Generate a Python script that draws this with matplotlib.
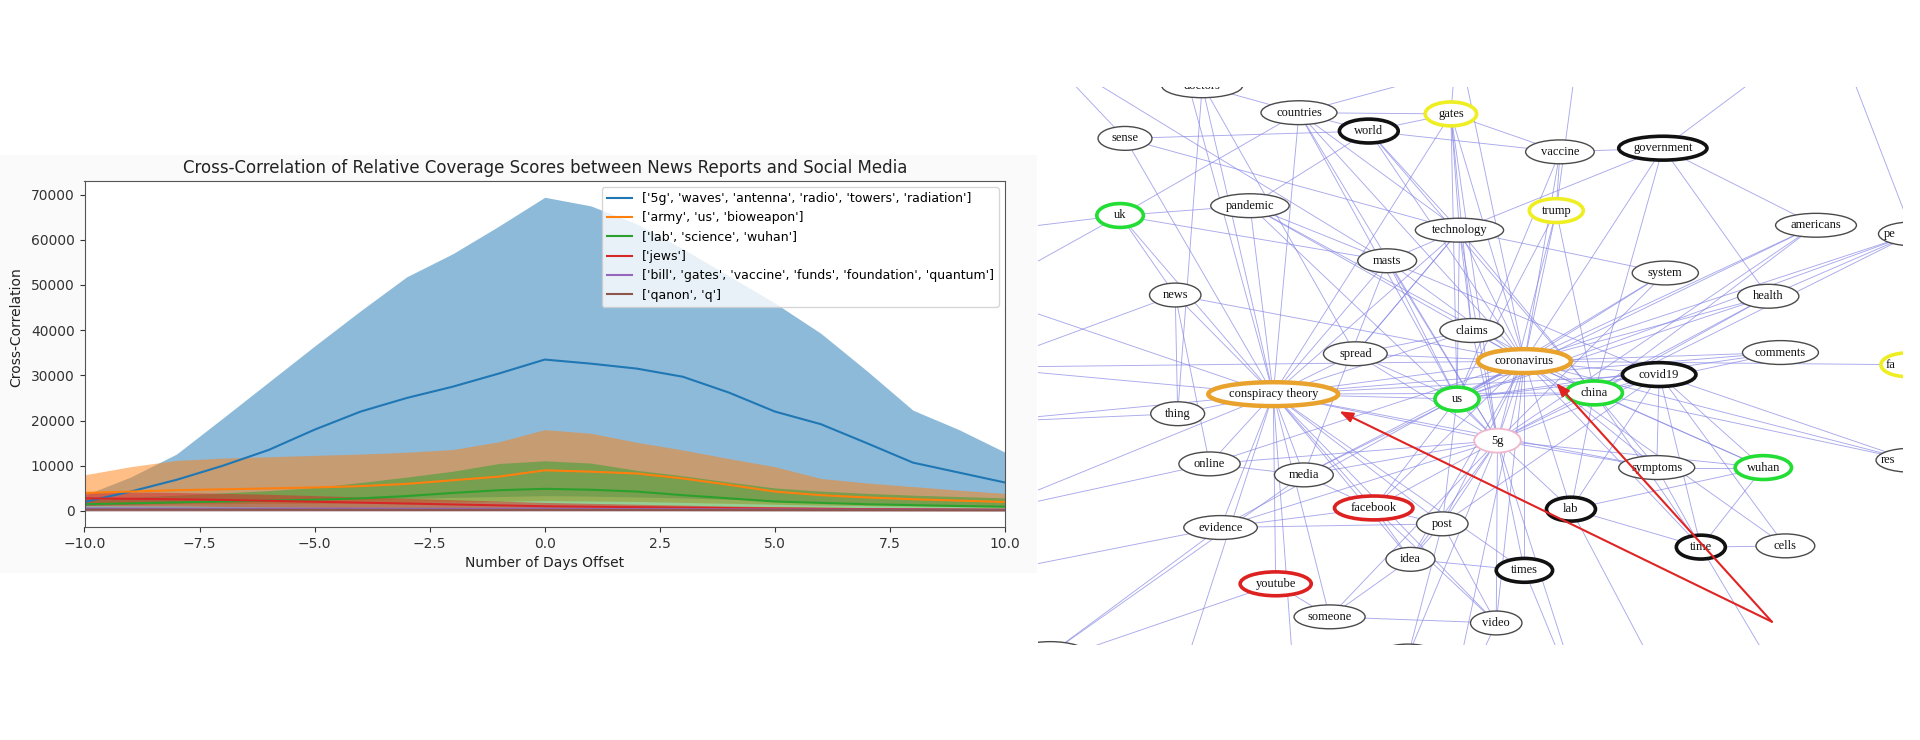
#--------------------------------------------------------
# Cross-correlation of topic coverage (news vs social media)
# next to a cropped view of the keyword co-occurrence network
#--------------------------------------------------------

import numpy as np
import matplotlib
matplotlib.use('Agg')
import matplotlib.pyplot as plt
from matplotlib.patches import Ellipse, Rectangle
from matplotlib.ticker import MultipleLocator

#-----------------------------------------
#--- Cross-correlation data (lag in days)
#-----------------------------------------
lags = np.arange(-10, 11)

topics = ["['5g', 'waves', 'antenna', 'radio', 'towers', 'radiation']",
          "['army', 'us', 'bioweapon']",
          "['lab', 'science', 'wuhan']",
          "['jews']",
          "['bill', 'gates', 'vaccine', 'funds', 'foundation', 'quantum']",
          "['qanon', 'q']"]

fiveg_mean  = [2000, 4300, 6900, 10000, 13500, 18000, 22000, 25000, 27500, 30400, 33500,
               32600, 31500, 29700, 26200, 22000, 19200, 15000, 10700, 8500, 6300]
fiveg_upper = [3500, 7500, 12600, 20500, 28500, 36500, 44300, 51800, 56900, 63000, 69400,
               67500, 63500, 58000, 52000, 46000, 39300, 31000, 22300, 18000, 13000]
fiveg_lower = [1200, 1500, 1800, 2000, 2200, 2400, 2600, 2800, 3000, 3200, 3400,
               3300, 3100, 2900, 2600, 2300, 2000, 1800, 1500, 1300, 1100]

army_mean  = [4000, 4300, 4600, 4800, 5000, 5200, 5500, 6000, 6800, 7600, 9000,
              8700, 8300, 7200, 5800, 4300, 3500, 3000, 2600, 2300, 2000]
army_upper = [8000, 9800, 11200, 11700, 12000, 12300, 12600, 13000, 13600, 15300, 18000,
              17200, 15200, 13500, 11600, 9800, 7200, 6200, 5400, 4600, 3900]
army_lower = [1500, 1500, 1600, 1600, 1700, 1700, 1800, 1900, 2000, 2100, 2300,
              2200, 2100, 1900, 1700, 1500, 1300, 1200, 1100, 1000, 900]

lab_mean  = [1500, 1700, 1900, 2100, 2300, 2500, 2800, 3300, 4000, 4600, 4900,
             4700, 4300, 3500, 2800, 2100, 1800, 1500, 1300, 1100, 950]
lab_upper = [2500, 3000, 3500, 4000, 4500, 5200, 6300, 7500, 8800, 10500, 11100,
             10600, 9000, 7800, 6400, 5100, 4400, 3900, 3500, 3200, 2900]
lab_lower = [400, 400, 400, 450, 450, 500, 500, 550, 600, 650, 700,
             650, 600, 550, 500, 450, 400, 350, 300, 300, 250]

jews_mean  = [2800, 2700, 2600, 2450, 2250, 2050, 1850, 1650, 1450, 1250, 1050,
              950, 850, 750, 650, 550, 480, 420, 370, 330, 300]
jews_upper = [4300, 4200, 4100, 3900, 3700, 3400, 3100, 2800, 2500, 2200, 1900,
              1700, 1500, 1300, 1100, 950, 850, 750, 650, 600, 550]
jews_lower = [1200, 1150, 1100, 1000, 900, 800, 700, 600, 500, 400, 300,
              280, 250, 220, 200, 180, 160, 140, 120, 110, 100]

gates_mean  = [500, 500, 480, 460, 450, 440, 430, 420, 420, 420, 440,
               420, 400, 380, 350, 330, 310, 290, 280, 260, 250]
gates_upper = [1100, 1100, 1050, 1000, 1000, 950, 950, 900, 900, 900, 950,
               900, 850, 800, 750, 700, 650, 600, 600, 550, 550]
gates_lower = [60, 60, 60, 60, 60, 60, 60, 60, 60, 60, 60,
               60, 60, 60, 60, 60, 60, 60, 60, 60, 60]

qanon_mean  = [300, 300, 290, 280, 270, 260, 250, 240, 240, 240, 250,
               240, 230, 220, 210, 200, 190, 180, 170, 160, 150]
qanon_upper = [700, 700, 680, 660, 640, 620, 600, 580, 560, 560, 580,
               560, 540, 520, 500, 480, 460, 440, 420, 400, 400]
qanon_lower = [0, 0, 0, 0, 0, 0, 0, 0, 0, 0, 0,
               0, 0, 0, 0, 0, 0, 0, 0, 0, 0]

means  = [fiveg_mean, army_mean, lab_mean, jews_mean, gates_mean, qanon_mean]
uppers = [fiveg_upper, army_upper, lab_upper, jews_upper, gates_upper, qanon_upper]
lowers = [fiveg_lower, army_lower, lab_lower, jews_lower, gates_lower, qanon_lower]
colors = ['tab:blue', 'tab:orange', 'tab:green', 'tab:red', 'tab:purple', 'tab:brown']

#-----------------------------------------
#--- Network nodes (layout coords) and edges
#-----------------------------------------
# nodes cut by the right border only show the first letters of their label
node_names = ['doctors', 'countries', 'world', 'gates', 'sense', 'vaccine', 'government',
              'uk', 'pandemic', 'trump', 'technology', 'americans', 'pe', 'masts',
              'system', 'news', 'health', 'claims', 'spread', 'coronavirus', 'comments',
              'fa', 'covid19', 'conspiracy theory', 'us', 'china', 'thing', '5g',
              'online', 'media', 'symptoms', 'wuhan', 'res', 'facebook', 'lab',
              'evidence', 'post', 'time', 'cells', 'idea', 'times', 'youtube', 'someone',
              'video', 'science', 'bill']
node_x = [982, 1061, 1118, 1185, 919, 1274, 1358, 915, 1021, 1271, 1192, 1483, 1562,
          1133, 1360, 960, 1444, 1202, 1107, 1245, 1454, 1558, 1355, 1040, 1190, 1302,
          962, 1223, 988, 1065, 1353, 1440, 1560, 1122, 1283, 997, 1178, 1389, 1458,
          1152, 1245, 1042, 1086, 1222, 858, 1150]
node_y = [70, 92, 107, 93, 113, 124, 121, 176, 168, 172, 188, 184, 191, 213, 223, 241,
          242, 270, 289, 295, 288, 298, 306, 322, 326, 321, 338, 360, 379, 388, 382, 382,
          376, 415, 416, 431, 428, 447, 446, 457, 466, 477, 504, 509, 534, 536]
node_width = [66, 62, 48, 42, 44, 56, 72, 38, 64, 44, 72, 66, 56, 48,
              54, 42, 50, 52, 52, 76, 62, 44, 60, 106, 36, 46, 44, 38,
              50, 48, 62, 46, 56, 64, 40, 60, 42, 40, 48, 40, 46, 58, 58,
              42, 60, 50]
node_kind = ['plain', 'plain', 'black', 'yellow', 'plain', 'plain', 'black',
             'green', 'plain', 'yellow', 'plain', 'plain', 'plain', 'plain',
             'plain', 'plain', 'plain', 'plain', 'plain', 'orange', 'plain',
             'yellow', 'black', 'orange', 'green', 'green', 'plain', 'pink',
             'plain', 'plain', 'plain', 'green', 'plain', 'red', 'black',
             'plain', 'plain', 'black', 'plain', 'plain', 'black', 'red', 'plain',
             'plain', 'plain', 'plain']

# unlabeled anchors for edges that leave the cropped view
anchor_names = ['_T0', '_T1', '_T2', '_T3', '_T4', '_T5', '_L1', '_L2', '_L3', '_L4',
                '_L5', '_L6', '_L7', '_B1', '_B2', '_B3', '_B4', '_B5', '_B6', '_R1']
anchor_x = [850, 960, 1190, 1290, 1480, 1500, 800, 800, 800, 800,
            800, 800, 800, 950, 1060, 1180, 1300, 1380, 1480, 1600]
anchor_y = [40, 30, 30, 30, 30, 30, 190, 240, 300, 345,
            420, 470, 560, 600, 600, 600, 600, 600, 600, 390]

CT, CV = 'conspiracy theory', 'coronavirus'
edges = [
    (CT, 'news'), (CT, 'spread'), (CT, 'thing'), (CT, 'online'), (CT, 'media'),
    (CT, 'facebook'), (CT, 'evidence'), (CT, 'youtube'), (CT, 'someone'), (CT, 'idea'),
    (CT, 'post'), (CT, 'video'), (CT, '5g'), (CT, 'us'), (CT, CV), (CT, 'china'),
    (CT, 'claims'), (CT, 'masts'), (CT, 'pandemic'), (CT, 'technology'), (CT, 'countries'),
    (CT, 'uk'), (CT, 'sense'), (CT, 'comments'), (CT, 'covid19'), (CT, 'symptoms'),
    (CT, 'times'), (CT, 'gates'), (CT, '_L2'), (CT, '_L3'), (CT, '_L4'), (CT, '_L5'),
    (CT, '_B1'), (CT, '_B2'), (CT, '_T1'), (CT, 'doctors'),
    (CV, 'claims'), (CV, 'technology'), (CV, 'masts'), (CV, '5g'), (CV, 'us'), (CV, 'china'),
    (CV, 'covid19'), (CV, 'lab'), (CV, 'time'), (CV, 'symptoms'), (CV, 'wuhan'), (CV, 'post'),
    (CV, 'video'), (CV, 'times'), (CV, 'idea'), (CV, 'facebook'), (CV, 'gates'), (CV, 'trump'),
    (CV, 'vaccine'), (CV, 'government'), (CV, 'americans'), (CV, 'health'), (CV, 'comments'),
    (CV, 'fa'), (CV, 'pe'), (CV, 'world'), (CV, 'countries'), (CV, 'spread'), (CV, 'media'),
    (CV, 'online'), (CV, 'evidence'), (CV, 'system'), (CV, 'pandemic'), (CV, '_T2'),
    (CV, '_B3'), (CV, '_L3'), (CV, 'res'), (CV, 'cells'), (CV, 'news'),
    ('sense', 'world'), ('sense', '_T0'), ('sense', 'technology'), ('uk', 'pandemic'),
    ('uk', '_L1'), ('uk', '_L2'), ('uk', 'news'), ('uk', 'masts'), ('uk', 'countries'),
    ('pandemic', 'world'), ('pandemic', 'masts'), ('pandemic', '5g'), ('pandemic', 'china'),
    ('countries', 'world'), ('countries', 'gates'), ('countries', 'technology'),
    ('countries', 'us'), ('countries', '5g'), ('countries', '_T3'), ('world', 'gates'),
    ('world', 'vaccine'), ('world', 'technology'), ('world', 'china'), ('gates', 'vaccine'),
    ('gates', 'technology'), ('gates', 'us'), ('gates', '5g'), ('gates', 'claims'),
    ('gates', '_T2'), ('vaccine', 'government'), ('vaccine', 'trump'), ('vaccine', 'us'),
    ('government', 'americans'), ('government', 'health'), ('government', 'technology'),
    ('government', 'china'), ('government', '_T4'), ('trump', '5g'), ('trump', 'china'),
    ('trump', 'us'), ('trump', '_T3'), ('technology', 'masts'), ('technology', 'system'),
    ('technology', '5g'), ('technology', 'us'), ('technology', 'china'), ('technology', 'spread'),
    ('masts', '5g'), ('masts', 'us'), ('masts', 'media'), ('masts', 'covid19'),
    ('system', '5g'), ('system', 'us'), ('americans', 'us'), ('americans', 'china'),
    ('americans', '5g'), ('pe', 'china'), ('pe', 'us'), ('pe', '_T5'),
    ('health', 'china'), ('health', 'us'), ('health', '5g'), ('comments', 'us'),
    ('comments', 'china'), ('covid19', 'china'), ('covid19', 'wuhan'), ('covid19', 'time'),
    ('covid19', 'lab'), ('covid19', 'symptoms'), ('covid19', 'cells'), ('covid19', 'res'),
    ('covid19', 'us'), ('covid19', '5g'), ('covid19', 'post'), ('us', 'china'), ('us', '5g'),
    ('us', 'spread'), ('us', 'facebook'), ('us', 'post'), ('us', 'media'), ('china', '5g'),
    ('china', 'wuhan'), ('china', 'lab'), ('china', 'symptoms'), ('china', 'time'),
    ('china', 'res'), ('5g', 'post'), ('5g', 'video'), ('5g', 'idea'), ('5g', 'facebook'),
    ('5g', 'media'), ('5g', 'online'), ('5g', 'evidence'), ('5g', 'spread'), ('5g', 'someone'),
    ('5g', 'lab'), ('5g', 'symptoms'), ('5g', 'wuhan'), ('5g', 'times'), ('5g', '_B4'),
    ('symptoms', 'wuhan'), ('symptoms', 'time'), ('lab', 'wuhan'), ('lab', 'time'),
    ('lab', '_B5'), ('time', 'cells'), ('time', '_B6'), ('news', 'online'), ('news', '_L3'),
    ('news', 'thing'), ('thing', '_L4'), ('online', '_L5'), ('online', 'media'),
    ('evidence', '_L6'), ('evidence', 'post'), ('evidence', 'facebook'), ('facebook', 'media'),
    ('facebook', 'post'), ('facebook', 'idea'), ('facebook', 'video'), ('post', 'video'),
    ('post', 'idea'), ('idea', 'times'), ('idea', 'someone'), ('youtube', '_L7'),
    ('youtube', 'someone'), ('someone', 'video'), ('video', '_B3'), ('times', '_B4'),
    ('spread', 'claims'), ('spread', 'technology'), ('claims', 'technology'), ('claims', '5g'),
    ('res', '_R1'), ('wuhan', 'time'), ('pe', 'health'), ('doctors', 'thing'),
    ('doctors', 'countries'), ('_T0', 'masts'), ('_T1', 'spread'), ('science', 'media'),
    ('bill', 'post'), ('science', 'evidence'), ('bill', '5g')]

# highlighted arrows (from the annotation point to the two hubs)
arrow_tail = (1447, 508)
arrow_heads = [(1094, 336), (1271, 313)]

#-----------------------------------------
#--- Figure
#-----------------------------------------
fig = plt.figure(figsize=(19.2, 7.4), dpi=100)
fig.patches.append(Rectangle((0, 1 - 573/740), 1037/1920, 418/740, transform=fig.transFigure,
                             facecolor='#fafafa', edgecolor='none', zorder=-10))

ax = fig.add_axes([84.5/1920, 1 - 527/740, 920.5/1920, 346/740])
for m, lo, hi, c, lab in zip(means, lowers, uppers, colors, topics):
    ax.plot(lags, m, color=c, label=lab, lw=1.5)
    ax.fill_between(lags, lo, hi, color=c, alpha=0.5, linewidth=0)

ax.set_xlim(-10, 10)
ax.set_ylim(-3540, 73000)
ax.xaxis.set_major_locator(MultipleLocator(2.5))
ax.yaxis.set_major_locator(MultipleLocator(10000))
ax.tick_params(labelsize=10, colors='#333333')
for s in ax.spines.values():
    s.set_color('#555555')
ax.set_title('Cross-Correlation of Relative Coverage Scores between News Reports and Social Media',
             fontsize=12, color='#222222')
ax.set_xlabel('Number of Days Offset', fontsize=10, color='#222222')
ax.set_ylabel('Cross-Correlation', fontsize=10, color='#222222')
ax.yaxis.set_label_coords(-0.0668, 0.578)
ax.legend(loc='upper right', fontsize=9)

#-----------------------------------------
#--- Network panel
#-----------------------------------------
x_lo, x_hi = 848, 1554
net = fig.add_axes([1038/1920, 1 - 645/740, 865/1920, 558/740])
net.set_xlim(x_lo, x_hi)
net.set_ylim(527, 71)
net.axis('off')

pos = {}
for n, x, y in zip(node_names, node_x, node_y):
    pos[n] = (x, y)
for n, x, y in zip(anchor_names, anchor_x, anchor_y):
    pos[n] = (x, y)

for a, b in edges:
    (x0, y0), (x1, y1) = pos[a], pos[b]
    net.plot([x0, x1], [y0, y1], color='#8484e4', lw=0.65, alpha=0.7, zorder=1)

kind_style = {'plain':  ('#4a4a4a', 1.0),
              'black':  ('#111111', 2.6),
              'yellow': ('#eeee22', 2.6),
              'green':  ('#22dd33', 2.6),
              'orange': ('#e9a22c', 3.2),
              'red':    ('#dd2020', 2.6),
              'pink':   ('#f2b6cc', 1.3)}

for n, x, y, w, k in zip(node_names, node_x, node_y, node_width, node_kind):
    ec, lw = kind_style[k]
    e = Ellipse((x, y), w, 19.5, facecolor='white', edgecolor=ec, lw=lw, zorder=3)
    net.add_patch(e)
    if x + w / 2 > x_hi:
        # label of a node cut by the border starts just inside the ellipse
        net.text(x - w / 2 + 4, y, n, ha='left', va='center', fontsize=9,
                 family='Liberation Serif', color='#111111', zorder=4)
    else:
        net.text(x, y, n, ha='center', va='center', fontsize=9, family='Liberation Serif',
                 color='#111111', zorder=4, clip_on=True)

for hx, hy in arrow_heads:
    net.annotate('', xy=(hx, hy), xytext=arrow_tail, zorder=5,
                 arrowprops=dict(arrowstyle='-|>,head_length=0.8,head_width=0.3',
                                 color='#e02424', lw=1.5, shrinkA=0, shrinkB=0))

fig.savefig('out.png', dpi=100)
